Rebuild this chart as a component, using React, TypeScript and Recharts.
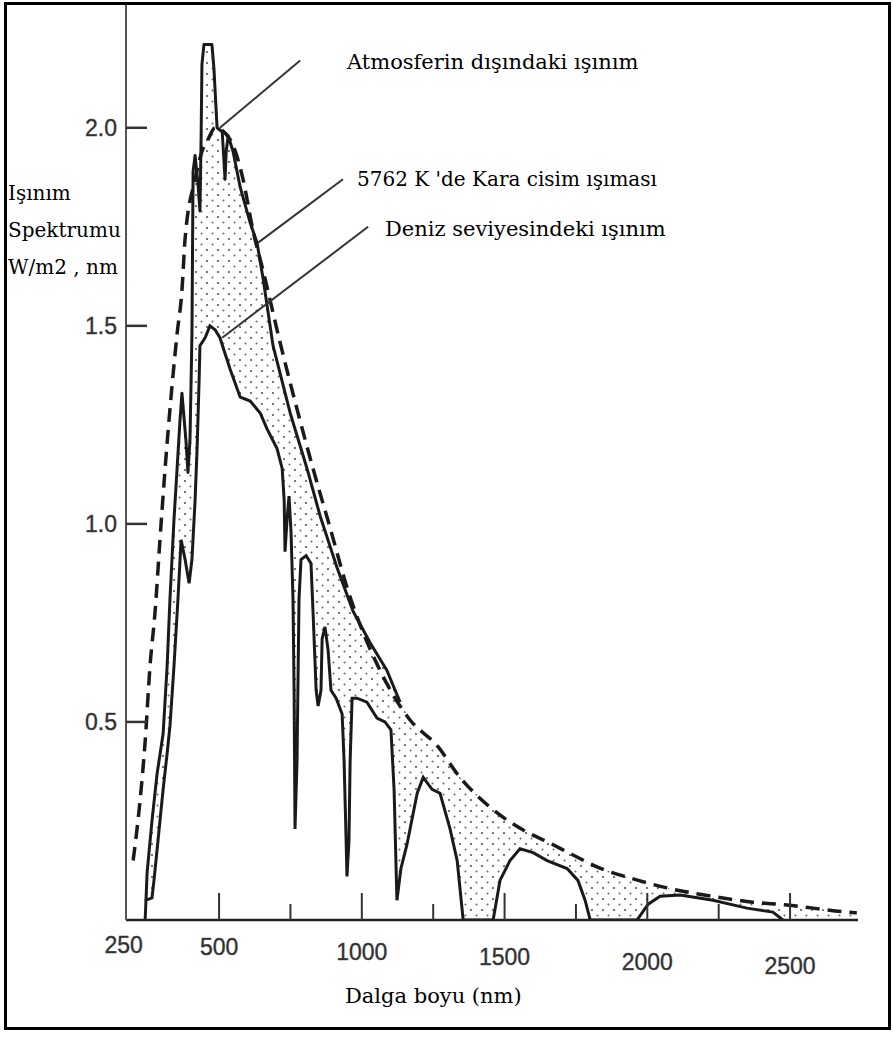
import React from 'react';
import { ComposedChart, Line, Area, XAxis, YAxis, ReferenceLine } from 'recharts';

// Atmosferin dışındaki ışınım (solid, upper curve)
const extraNm = [244, 248, 265, 283, 304, 318, 328, 335, 342, 353, 363, 370, 384, 391, 398, 402, 405, 407, 409, 416, 426, 433, 437, 440, 447, 475, 482, 493, 511, 521, 525, 532, 549, 574, 609, 633, 654, 689, 749, 808, 854, 913, 969, 1029, 1088, 1134];
const extraVal = [0.05, 0.12, 0.25, 0.37, 0.47, 0.64, 0.81, 0.91, 1.01, 1.14, 1.26, 1.33, 1.21, 1.13, 1.21, 1.36, 1.48, 1.69, 1.89, 1.93, 1.86, 1.79, 1.97, 2.16, 2.21, 2.21, 2.15, 2.0, 1.99, 1.87, 1.94, 1.98, 1.94, 1.85, 1.76, 1.71, 1.62, 1.45, 1.28, 1.14, 1.02, 0.89, 0.78, 0.7, 0.63, 0.55];

// 5762 K kara cisim (dashed)
const bbNm = [199, 223, 241, 258, 276, 293, 311, 328, 353, 370, 381, 416, 440, 461, 486, 539, 584, 619, 654, 713, 773, 829, 889, 948, 1064, 1169, 1264, 1344, 1449, 1565, 1659, 1740, 1834, 1940, 2069, 2244, 2370, 2489, 2581, 2700, 2734];
const bbVal = [0.15, 0.3, 0.45, 0.64, 0.78, 0.96, 1.14, 1.29, 1.48, 1.59, 1.72, 1.87, 1.94, 1.97, 2.0, 1.97, 1.87, 1.74, 1.64, 1.46, 1.29, 1.14, 0.99, 0.84, 0.63, 0.505, 0.44, 0.36, 0.285, 0.227, 0.194, 0.164, 0.131, 0.106, 0.081, 0.058, 0.045, 0.038, 0.03, 0.02, 0.018];

// Deniz seviyesindeki ışınım (solid, lower curve)
const seaNm = [241, 244, 265, 272, 286, 304, 318, 328, 342, 356, 367, 381, 395, 405, 416, 423, 430, 433, 451, 468, 486, 503, 539, 574, 609, 644, 668, 703, 721, 728, 731, 738, 745, 752, 759, 763, 766, 773, 780, 787, 805, 822, 829, 840, 847, 857, 861, 871, 882, 892, 910, 931, 938, 945, 948, 955, 959, 966, 983, 1018, 1053, 1081, 1102, 1113, 1123, 1137, 1158, 1194, 1215, 1246, 1274, 1309, 1334, 1348, 1355, 1460, 1484, 1519, 1554, 1600, 1649, 1719, 1757, 1782, 1800, 1964, 2003, 2045, 2115, 2230, 2349, 2440, 2475];
const seaVal = [0, 0.05, 0.056, 0.1, 0.2, 0.33, 0.42, 0.49, 0.64, 0.81, 0.96, 0.91, 0.85, 0.91, 1.06, 1.19, 1.36, 1.45, 1.47, 1.5, 1.49, 1.47, 1.39, 1.32, 1.31, 1.28, 1.24, 1.19, 1.14, 1.06, 0.93, 1.01, 1.07, 0.98, 0.81, 0.56, 0.23, 0.4, 0.81, 0.91, 0.92, 0.9, 0.78, 0.58, 0.54, 0.58, 0.71, 0.74, 0.68, 0.58, 0.56, 0.52, 0.4, 0.2, 0.11, 0.2, 0.4, 0.56, 0.56, 0.55, 0.51, 0.5, 0.48, 0.33, 0.05, 0.13, 0.19, 0.32, 0.36, 0.33, 0.32, 0.23, 0.15, 0.05, 0, 0, 0.1, 0.15, 0.18, 0.17, 0.15, 0.13, 0.1, 0.05, 0, 0, 0.04, 0.06, 0.063, 0.05, 0.03, 0.02, 0];

const xTicks = [250, 500, 750, 1000, 1250, 1500, 1750, 2000, 2250, 2500];
const xLabels: Record<number, string> = { 250: '250', 500: '500', 1000: '1000', 1500: '1500', 2000: '2000', 2500: '2500' };
const yTicks = [0.5, 1.0, 1.5, 2.0];

// leader lines from the labels to the curves: [nm, value] pairs
const leaders = [
  [[784, 2.17], [503, 2.0]],
  [[934, 1.87], [637, 1.71]],
  [[1022, 1.75], [511, 1.47]],
];

const toPts = (nm: number[], val: number[]) => nm.map((n, i) => ({ nm: n, v: val[i] }));
const extraData = toPts(extraNm, extraVal);
const bbData = toPts(bbNm, bbVal);
const seaData = toPts(seaNm, seaVal);
// stippled absorption band: upper edge follows the outer curve, then the blackbody line
const lastExtra = extraNm[extraNm.length - 1];
const bandData = [...extraData, ...bbData.filter(d => d.nm > lastExtra)];

const sans = '"Liberation Sans", Arial, sans-serif';
const serif = '"DejaVu Serif", serif';

const XTick = ({ x, y, payload }: any) => {
  const v = payload.value;
  const major = v % 500 === 0;
  const label = xLabels[v];
  return (
    <g>
      {v !== 250 && <line x1={x} x2={x} y1={y} y2={y - (major ? 27 : 16)} stroke="#333" strokeWidth={2} />}
      {label && (
        <text x={v === 250 ? x - 24 : x} y={y + 33 + (v - 250) * 0.0095} textAnchor="middle" fontFamily={sans} fontSize={23} fill="#2e2e2e" stroke="#444" strokeWidth={0.4}>
          {label}
        </text>
      )}
    </g>
  );
};

const YTick = ({ x, y, payload }: any) => (
  <g>
    <line x1={x} x2={x + 21} y1={y} y2={y} stroke="#333" strokeWidth={2.5} />
    <text x={x - 9} y={y} dy={8} textAnchor="end" fontFamily={sans} fontSize={23} fill="#2e2e2e" stroke="#444" strokeWidth={0.4}>
      {payload.value.toFixed(1)}
    </text>
  </g>
);

const txt: React.CSSProperties = { position: 'absolute', fontFamily: serif, fontSize: 21, lineHeight: '21px', color: '#000', whiteSpace: 'nowrap' };

export default function App() {
  return (
    <div style={{ position: 'absolute', left: 4, top: 2, width: 887, height: 1028, border: '3px solid #000', boxSizing: 'border-box', background: '#fff' }}>
      <ComposedChart width={880} height={1020} margin={{ top: 0, right: 29, bottom: 0, left: 0 }}>
        <defs>
          <pattern id="stipple" width="11" height="11" patternUnits="userSpaceOnUse">
            <circle cx="2" cy="3" r="1.1" fill="#555" />
            <circle cx="7.5" cy="8.5" r="1" fill="#666" />
          </pattern>
        </defs>
        <XAxis
          type="number"
          dataKey="nm"
          domain={[174, 2738]}
          ticks={xTicks}
          allowDataOverflow
          height={105}
          tickSize={0}
          tickMargin={0}
          tickLine={false}
          tick={<XTick />}
          axisLine={{ stroke: '#222', strokeWidth: 2.5 }}
        />
        <YAxis
          type="number"
          dataKey="v"
          domain={[0, 2.31]}
          ticks={yTicks}
          allowDataOverflow
          width={119}
          tickSize={0}
          tickMargin={0}
          tickLine={false}
          tick={<YTick />}
          axisLine={{ stroke: '#555', strokeWidth: 2 }}
        />
        <Area data={bandData} dataKey="v" type="linear" stroke="none" fill="url(#stipple)" fillOpacity={1} isAnimationActive={false} />
        <Area data={seaData} dataKey="v" type="linear" stroke="#1a1a1a" strokeWidth={3} fill="#fff" fillOpacity={1} isAnimationActive={false} />
        <Line data={extraData} dataKey="v" type="linear" stroke="#1a1a1a" strokeWidth={3} dot={false} strokeLinejoin="round" isAnimationActive={false} />
        <Line data={bbData} dataKey="v" type="monotone" stroke="#1a1a1a" strokeWidth={3.5} strokeDasharray="14 8" dot={false} isAnimationActive={false} />
        {leaders.map((seg, i) => (
          <ReferenceLine
            key={i}
            segment={[{ x: seg[0][0], y: seg[0][1] }, { x: seg[1][0], y: seg[1][1] }]}
            stroke="#333"
            strokeWidth={2}
            ifOverflow="visible"
          />
        ))}
      </ComposedChart>

      <div style={{ ...txt, left: 340, top: 47 }}>Atmosferin dışındaki ışınım</div>
      <div style={{ ...txt, left: 350, top: 164, fontSize: 20 }}>5762 K 'de Kara cisim ışıması</div>
      <div style={{ ...txt, left: 378, top: 214 }}>Deniz seviyesindeki ışınım</div>
      <div style={{ ...txt, left: 1, top: 178, fontSize: 20 }}>Işınım</div>
      <div style={{ ...txt, left: 1, top: 215, fontSize: 20 }}>Spektrumu</div>
      <div style={{ ...txt, left: 1, top: 252, fontSize: 20 }}>W/m2 , nm</div>
      <div style={{ ...txt, left: 338, top: 981 }}>Dalga boyu (nm)</div>
    </div>
  );
}
